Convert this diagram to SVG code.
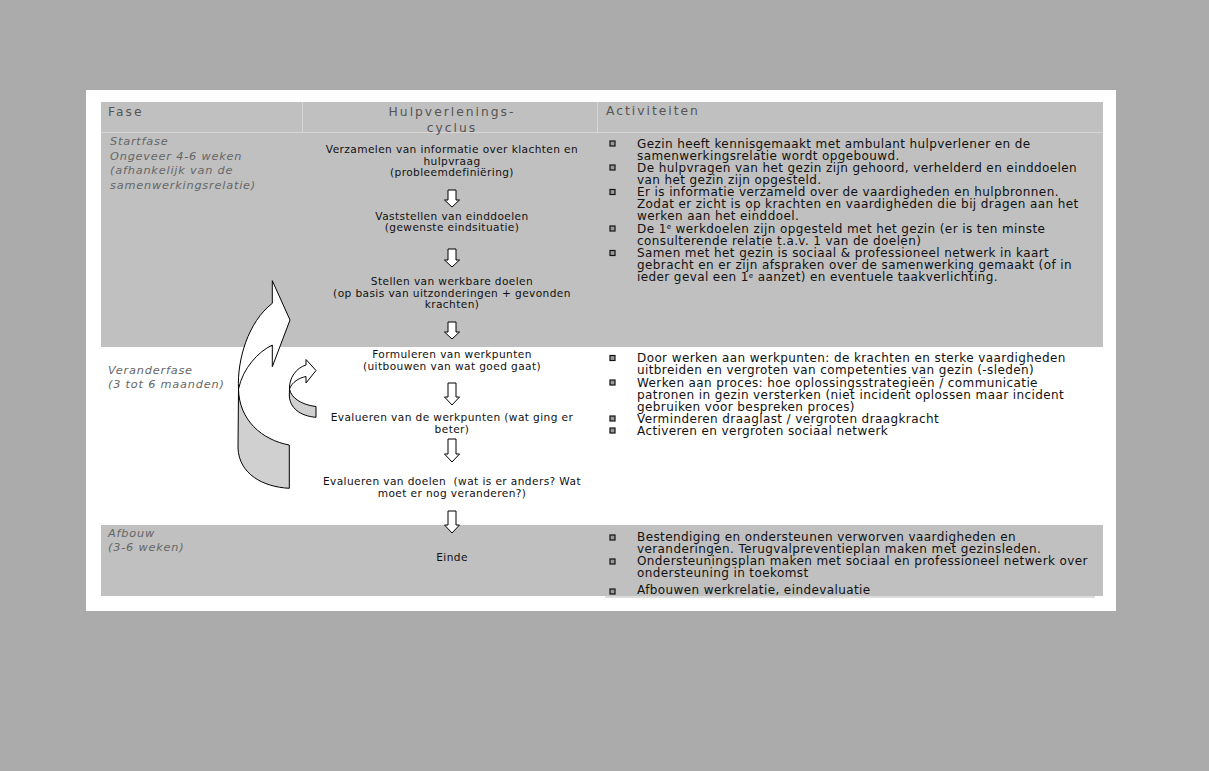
<svg xmlns="http://www.w3.org/2000/svg" width="1209" height="771" viewBox="0 0 1209 771">
<style>
.hd{font-family:"DejaVu Sans",Verdana,sans-serif;font-size:12.3px;letter-spacing:2px;fill:#555}
.ph{font-family:"DejaVu Sans",Verdana,sans-serif;font-size:11.3px;font-style:italic;letter-spacing:0.8px;fill:#666}
.mc{font-family:"DejaVu Sans",Verdana,sans-serif;font-size:10.6px;letter-spacing:0.4px;fill:#111;text-anchor:middle}
.rc{font-family:"DejaVu Sans",Verdana,sans-serif;font-size:12px;letter-spacing:0.4px;fill:#111}
.band{fill:#c0c0c0}
.da{fill:#fff;stroke:#000;stroke-width:1}
.bul{fill:#999;stroke:#111;stroke-width:1.2}
.face{fill:#fff;stroke:#000;stroke-width:1;stroke-linejoin:round}
.back{fill:#d0d0d0;stroke:#000;stroke-width:1;stroke-linejoin:round}
</style>
<rect x="0" y="0" width="1209" height="771" fill="#ababab"/>
<rect x="86" y="90" width="1030" height="521" fill="#fff"/>

<g id="table">
<rect class="band" x="101" y="102" width="1002" height="30"/>
<line x1="101" y1="132.5" x2="1103" y2="132.5" stroke="#d6d6d6" stroke-width="1"/>
<line x1="302.5" y1="102" x2="302.5" y2="132" stroke="#d6d6d6" stroke-width="1"/>
<line x1="597.5" y1="102" x2="597.5" y2="132" stroke="#d6d6d6" stroke-width="1"/>
<rect class="band" x="101" y="133" width="1002" height="214"/>
<rect class="band" x="101" y="525" width="1002" height="71"/>
</g>

<g id="header">
<text class="hd" x="108" y="116">Fase</text>
<text class="hd" x="452" y="116" text-anchor="middle">Hulpverlenings-</text>
<text class="hd" x="452" y="132" text-anchor="middle">cyclus</text>
<text class="hd" x="606" y="115">Activiteiten</text>
</g>

<g id="phase-start">
<text class="ph" x="110" y="144.5">Startfase</text>
<text class="ph" x="110" y="159.5">Ongeveer 4-6 weken</text>
<text class="ph" x="110" y="174">(afhankelijk van de</text>
<text class="ph" x="110" y="188.5">samenwerkingsrelatie)</text>
</g>
<g id="phase-verander">
<text class="ph" x="108" y="374">Veranderfase</text>
<text class="ph" x="108" y="387.5">(3 tot 6 maanden)</text>
</g>
<g id="phase-afbouw">
<text class="ph" x="108" y="537">Afbouw</text>
<text class="ph" x="108" y="550.5">(3-6 weken)</text>
</g>

<g id="step-verzamelen">
<text class="mc" x="452" y="152.5">Verzamelen van informatie over klachten en</text>
<text class="mc" x="452" y="164.5">hulpvraag</text>
<text class="mc" x="452" y="176">(probleemdefiniëring)</text>
</g>
<g id="step-vaststellen">
<text class="mc" x="452" y="219.5">Vaststellen van einddoelen</text>
<text class="mc" x="452" y="231">(gewenste eindsituatie)</text>
</g>
<g id="step-stellen">
<text class="mc" x="452" y="285">Stellen van werkbare doelen</text>
<text class="mc" x="452" y="296.5">(op basis van uitzonderingen + gevonden</text>
<text class="mc" x="452" y="308">krachten)</text>
</g>
<g id="step-formuleren">
<text class="mc" x="452" y="357.5">Formuleren van werkpunten</text>
<text class="mc" x="452" y="369.5">(uitbouwen van wat goed gaat)</text>
</g>
<g id="step-evalueren-werkpunten">
<text class="mc" x="452" y="421">Evalueren van de werkpunten (wat ging er</text>
<text class="mc" x="452" y="433">beter)</text>
</g>
<g id="step-evalueren-doelen">
<text class="mc" x="452" y="485" xml:space="preserve">Evalueren van doelen  (wat is er anders? Wat</text>
<text class="mc" x="452" y="496.5">moet er nog veranderen?)</text>
</g>
<g id="step-einde">
<text class="mc" x="452" y="560.5">Einde</text>
</g>

<g id="connectors">
<path class="da" d="M448,190 h8 v10 h3.5 l-7.5,7 l-7.5,-7 h3.5 z"/>
<path class="da" d="M448,249 h8 v11 h3.5 l-7.5,7 l-7.5,-7 h3.5 z"/>
<path class="da" d="M448,322 h8 v10 h3.5 l-7.5,7 l-7.5,-7 h3.5 z"/>
<path class="da" d="M448,383 h8 v14 h3.5 l-7.5,8 l-7.5,-8 h3.5 z"/>
<path class="da" d="M448,439 h8 v15 h3.5 l-7.5,8 l-7.5,-8 h3.5 z"/>
<path class="da" d="M448,511 h8 v14 h3.5 l-7.5,8 l-7.5,-8 h3.5 z"/>
<g id="loop-big">
<path class="back" d="M238.5,389 C239,420 262,440 289.3,445 L289.3,488.3 C263,487 239,474 238,448 Z"/>
<path class="face" d="M272.3,280.7 L290,320 L272.3,366.7 L272.3,345 C258,352 243,368 238.5,389 C237,360 248,322 272.3,303.3 Z"/>
</g>
<g id="loop-small">
<path class="back" d="M289.5,389 C291,398 302,405 316,406.5 L316,417.3 C300,416 290,408 289.3,396 Z"/>
<path class="face" d="M306,359.5 L316,370.5 L306,383 L306,376.5 C299,378 292,382 289.5,389 C289,378 296,368 306,365 Z"/>
</g>
</g>

<g id="act-start">
<rect class="bul" x="610" y="141" width="5" height="5"/>
<text class="rc" x="637" y="147.5">Gezin heeft kennisgemaakt met ambulant hulpverlener en de</text>
<text class="rc" x="637" y="159.5">samenwerkingsrelatie wordt opgebouwd.</text>
<rect class="bul" x="610" y="165" width="5" height="5"/>
<text class="rc" x="637" y="171.5">De hulpvragen van het gezin zijn gehoord, verhelderd en einddoelen</text>
<text class="rc" x="637" y="183.5">van het gezin zijn opgesteld.</text>
<rect class="bul" x="610" y="189.5" width="5" height="5"/>
<text class="rc" x="637" y="196">Er is informatie verzameld over de vaardigheden en hulpbronnen.</text>
<text class="rc" x="637" y="208">Zodat er zicht is op krachten en vaardigheden die bij dragen aan het</text>
<text class="rc" x="637" y="220">werken aan het einddoel.</text>
<rect class="bul" x="610" y="226" width="5" height="5"/>
<text class="rc" x="637" y="232.5">De 1<tspan font-size="7" dy="-3.5">e</tspan><tspan dy="3.5"> werkdoelen zijn opgesteld met het gezin (er is ten minste</tspan></text>
<text class="rc" x="637" y="244.5">consulterende relatie t.a.v. 1 van de doelen)</text>
<rect class="bul" x="610" y="250.5" width="5" height="5"/>
<text class="rc" x="637" y="257">Samen met het gezin is sociaal &amp; professioneel netwerk in kaart</text>
<text class="rc" x="637" y="269">gebracht en er zijn afspraken over de samenwerking gemaakt (of in</text>
<text class="rc" x="637" y="281">ieder geval een 1<tspan font-size="7" dy="-3.5">e</tspan><tspan dy="3.5"> aanzet) en eventuele taakverlichting.</tspan></text>
</g>

<g id="act-verander">
<rect class="bul" x="610" y="355.5" width="5" height="5"/>
<text class="rc" x="637" y="362">Door werken aan werkpunten: de krachten en sterke vaardigheden</text>
<text class="rc" x="637" y="374">uitbreiden en vergroten van competenties van gezin (-sleden)</text>
<rect class="bul" x="610" y="380" width="5" height="5"/>
<text class="rc" x="637" y="386.5">Werken aan proces: hoe oplossingsstrategieën / communicatie</text>
<text class="rc" x="637" y="398.5">patronen in gezin versterken (niet incident oplossen maar incident</text>
<text class="rc" x="637" y="410.5">gebruiken voor bespreken proces)</text>
<rect class="bul" x="610" y="416" width="5" height="5"/>
<text class="rc" x="637" y="422.5">Verminderen draaglast / vergroten draagkracht</text>
<rect class="bul" x="610" y="428" width="5" height="5"/>
<text class="rc" x="637" y="434.5">Activeren en vergroten sociaal netwerk</text>
</g>

<g id="act-afbouw">
<rect class="bul" x="610" y="535" width="5" height="5"/>
<text class="rc" x="637" y="541">Bestendiging en ondersteunen verworven vaardigheden en</text>
<text class="rc" x="637" y="553">veranderingen. Terugvalpreventieplan maken met gezinsleden.</text>
<rect class="bul" x="610" y="559" width="5" height="5"/>
<text class="rc" x="637" y="565">Ondersteuningsplan maken met sociaal en professioneel netwerk over</text>
<text class="rc" x="637" y="577">ondersteuning in toekomst</text>
<rect class="bul" x="610" y="589" width="5" height="5"/>
<text class="rc" x="637" y="594">Afbouwen werkrelatie, eindevaluatie</text>
<line x1="605" y1="597" x2="1095" y2="597" stroke="#bbb" stroke-width="1"/>
</g>
</svg>
